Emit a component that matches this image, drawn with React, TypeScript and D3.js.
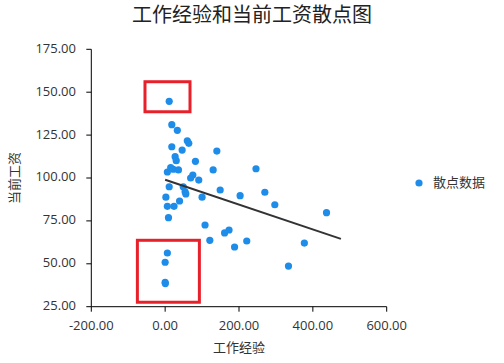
import React from "react";
import * as d3 from "d3";

const title = "工作经验和当前工资散点图";
const xLabel = "工作经验";
const yLabel = "当前工资";
const seriesName = "散点数据";

const experience = [
  11, 18, 33, 60, 64, 18, 46, 140, 27, 30, 82, 130, 6, 15, 22, 36, 246, 75, 69, 91,
  11, 49, 149, 54, 56, 203, 270, 2, 100, 6, 24, 39, 297, 9, 108, 161, 173, 121, 188, 221,
  377, 437, 334, 6, 0, 0, 0.5,
];
const salary = [
  144.7, 131.1, 127.8, 121.7, 120.2, 118.2, 116.3, 115.7, 112.4, 110.1, 109.7, 104.7, 103.5, 106, 105.1, 104.7, 105.4, 101.7, 100, 98.8,
  94.9, 94.9, 93, 92, 90.7, 89.7, 91.7, 88.8, 88.8, 83.5, 83.5, 86.6, 84.4, 76.9, 72.6, 68, 69.7, 63.7, 59.8, 63.3,
  62.1, 79.8, 48.7, 56.3, 50.9, 39.2, 38.5,
];
const trendX = [0, 476];
const trendY = [99, 64.5];

// highlighted regions (data units): [x0, x1, y0, y1]
const highlightX0 = [-54.6, -75.2];
const highlightX1 = [67.3, 92.7];
const highlightY0 = [138.6, 27.6];
const highlightY1 = [156.1, 63.7];

const xTicks = [-200, 0, 200, 400, 600];
const yTicks = [25, 50, 75, 100, 125, 150, 175];

export default function App() {
  const W = 504;
  const H = 363;
  const x = d3.scaleLinear().domain([-200, 600]).range([91.3, 386.7]);
  const y = d3.scaleLinear().domain([25, 175]).range([306.7, 49.3]);
  const fmt2 = d3.format(".2f");
  const fmt = (v: number) => fmt2(v).replace("\u2212", "-");
  const font = "'Open Sans', 'Noto Sans CJK SC', sans-serif";
  const cjk = "'Noto Sans CJK SC', sans-serif";
  const dotColor = "#1e8ce9";
  const line = d3
    .line<number>()
    .x((_, i) => x(trendX[i]))
    .y((d) => y(d));

  return (
    <svg
      width={W}
      height={H}
      style={{ position: "absolute", left: 0, top: 0, background: "#fff" }}
    >
      <text x={252} y={17} textAnchor="middle" dominantBaseline="middle" fontFamily={cjk} fontSize={20} fill="#222">
        {title}
      </text>

      {/* y axis */}
      <line x1={x(-200)} x2={x(-200)} y1={y(175)} y2={y(25)} stroke="#000" strokeWidth={1} />
      {yTicks.map((t) => (
        <g key={"y" + t}>
          <line x1={x(-200) - 5} x2={x(-200)} y1={y(t)} y2={y(t)} stroke="#000" />
          <text x={76} y={y(t)} textAnchor="end" dominantBaseline="middle" fontFamily={font} fontSize={13} fill="#333">
            {fmt(t)}
          </text>
        </g>
      ))}
      {/* x axis */}
      <line x1={x(-200)} x2={x(600)} y1={y(25)} y2={y(25)} stroke="#000" strokeWidth={1} />
      {xTicks.map((t) => (
        <g key={"x" + t}>
          <line x1={x(t)} x2={x(t)} y1={y(25)} y2={y(25) + 5} stroke="#000" />
          <text x={x(t)} y={327} textAnchor="middle" dominantBaseline="middle" fontFamily={font} fontSize={13} fill="#333">
            {fmt(t)}
          </text>
        </g>
      ))}

      <text x={239} y={348} textAnchor="middle" dominantBaseline="middle" fontFamily={cjk} fontSize={13} fill="#333">
        {xLabel}
      </text>
      <text
        transform={`translate(15,178) rotate(-90)`}
        textAnchor="middle"
        dominantBaseline="middle"
        fontFamily={cjk}
        fontSize={13}
        fill="#333"
      >
        {yLabel}
      </text>

      {experience.map((e, i) => (
        <circle key={i} cx={x(e)} cy={y(salary[i])} r={3.6} fill={dotColor} />
      ))}

      <path d={line(trendY) || ""} fill="none" stroke="#333" strokeWidth={2} />

      {highlightX0.map((x0, i) => (
        <rect
          key={"h" + i}
          x={x(x0)}
          y={y(highlightY1[i])}
          width={x(highlightX1[i]) - x(x0)}
          height={y(highlightY0[i]) - y(highlightY1[i])}
          fill="none"
          stroke="#e8202a"
          strokeWidth={3}
        />
      ))}

      <circle cx={419} cy={183} r={3.6} fill={dotColor} />
      <text x={433} y={183} dominantBaseline="middle" fontFamily={cjk} fontSize={13} fill="#333">
        {seriesName}
      </text>
    </svg>
  );
}
